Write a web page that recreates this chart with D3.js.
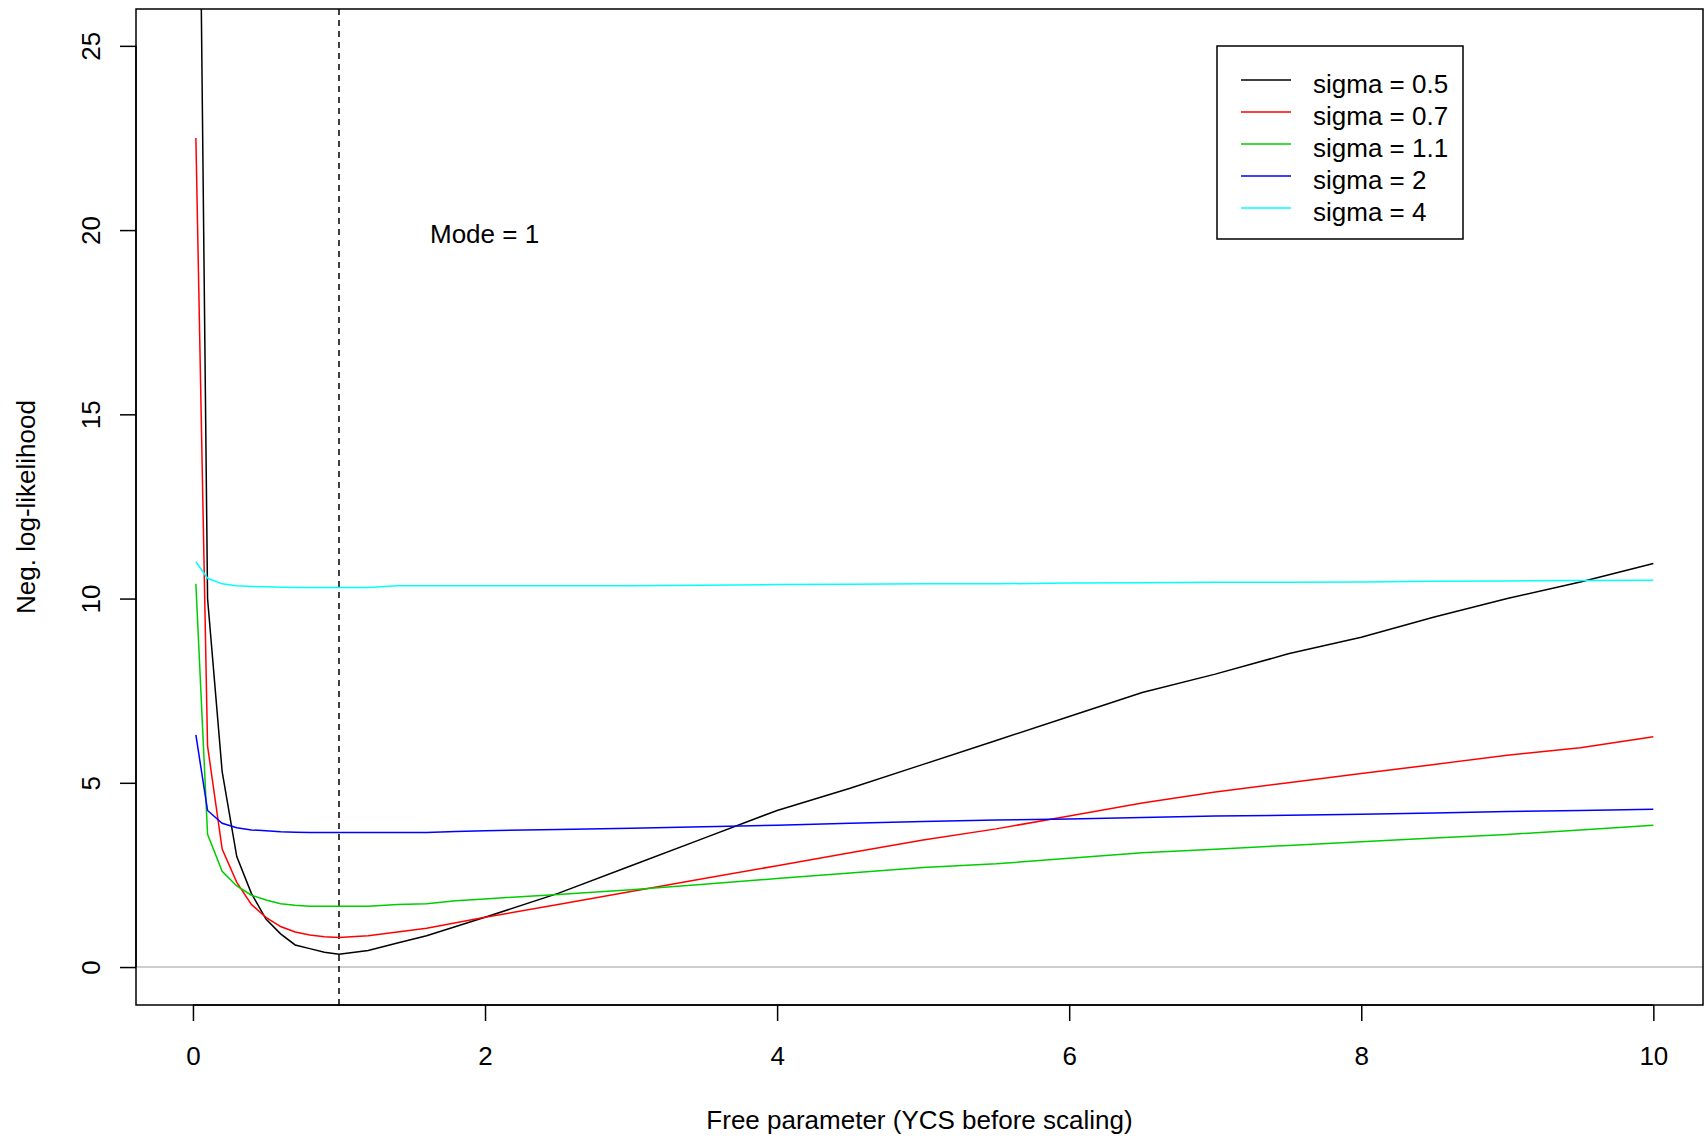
<!DOCTYPE html>
<html>
<head>
<meta charset="utf-8">
<script src="https://cdn.jsdelivr.net/npm/d3@7"></script>
<style>
  body { margin: 0; background: #fff; }
  text { font-family: "Liberation Sans", Arial, sans-serif; }
</style>
</head>
<body>
<svg id="chart" width="1704" height="1139"></svg>
<script>
// x positions sampled (free parameter)
const xs = [0.02, 0.1, 0.2, 0.3, 0.4, 0.5, 0.6, 0.7, 0.8, 0.9, 1.0, 1.2, 1.4, 1.6, 1.8, 2.0,
  2.5, 3.0, 3.5, 4.0, 4.5, 5.0, 5.5, 6.0, 6.5, 7.0, 7.5, 8.0, 8.5, 9.0, 9.5, 10.0];

const sigma05 = [40, 10, 5.3, 3.0, 2.0, 1.3, 0.9, 0.6, 0.5, 0.4, 0.35, 0.45, 0.65, 0.85, 1.1, 1.35,
  2.0, 2.75, 3.5, 4.25, 4.85, 5.5, 6.15, 6.8, 7.45, 7.95, 8.5, 8.95, 9.5, 10.0, 10.45, 10.95];
const sigma07 = [22.5, 6.0, 3.2, 2.3, 1.7, 1.35, 1.1, 0.95, 0.87, 0.82, 0.8, 0.85, 0.95, 1.05, 1.2, 1.35,
  1.7, 2.05, 2.4, 2.75, 3.1, 3.45, 3.75, 4.1, 4.45, 4.75, 5.0, 5.25, 5.5, 5.75, 5.95, 6.25];
const sigma11 = [10.4, 3.6, 2.6, 2.2, 1.95, 1.82, 1.72, 1.68, 1.65, 1.65, 1.65, 1.65, 1.7, 1.72, 1.8, 1.85,
  1.97, 2.1, 2.25, 2.4, 2.55, 2.7, 2.8, 2.95, 3.1, 3.2, 3.3, 3.4, 3.5, 3.6, 3.72, 3.85];
const sigma2 = [6.3, 4.25, 3.9, 3.78, 3.72, 3.7, 3.67, 3.66, 3.65, 3.65, 3.65, 3.65, 3.65, 3.65, 3.68, 3.7,
  3.73, 3.77, 3.81, 3.85, 3.9, 3.95, 3.99, 4.02, 4.06, 4.1, 4.12, 4.15, 4.18, 4.22, 4.25, 4.28];
const sigma4 = [11.0, 10.55, 10.4, 10.35, 10.33, 10.32, 10.31, 10.3, 10.3, 10.3, 10.3, 10.3, 10.35, 10.35, 10.35, 10.35,
  10.35, 10.35, 10.36, 10.38, 10.39, 10.4, 10.4, 10.42, 10.43, 10.44, 10.44, 10.45, 10.47, 10.48, 10.49, 10.5];

const seriesNames = ['sigma = 0.5', 'sigma = 0.7', 'sigma = 1.1', 'sigma = 2', 'sigma = 4'];
const seriesColors = ['#000000', '#ff0000', '#00cd00', '#0000ff', '#00ffff'];
const seriesValues = [sigma05, sigma07, sigma11, sigma2, sigma4];
const xTicks = [0, 2, 4, 6, 8, 10];
const yTicks = [0, 5, 10, 15, 20, 25];
const mode = 1;

const svg = d3.select('#chart');
const pLeft = 136, pRight = 1703, pTop = 9, pBottom = 1005;

const x = d3.scaleLinear().domain([-0.39, 10.34]).range([pLeft, pRight]);
const y = d3.scaleLinear().domain([-1.03, 26]).range([pBottom, pTop]);

svg.append('defs').append('clipPath').attr('id', 'clip')
  .append('rect').attr('x', pLeft).attr('y', pTop).attr('width', pRight - pLeft).attr('height', pBottom - pTop);

const plot = svg.append('g').attr('clip-path', 'url(#clip)');

// zero reference line
plot.append('line')
  .attr('x1', pLeft).attr('x2', pRight).attr('y1', y(0)).attr('y2', y(0))
  .attr('stroke', '#bebebe').attr('stroke-width', 1.5);

// mode line
plot.append('line')
  .attr('x1', x(mode)).attr('x2', x(mode)).attr('y1', pTop).attr('y2', pBottom)
  .attr('stroke', '#000').attr('stroke-width', 1.5).attr('stroke-dasharray', '6,5');

const line = d3.line().x((d, i) => x(xs[i])).y(d => y(d));
seriesValues.forEach((vals, k) => {
  plot.append('path')
    .attr('d', line(vals))
    .attr('fill', 'none')
    .attr('stroke', seriesColors[k])
    .attr('stroke-width', 1.5);
});

// box
svg.append('rect')
  .attr('x', pLeft).attr('y', pTop).attr('width', pRight - pLeft).attr('height', pBottom - pTop)
  .attr('fill', 'none').attr('stroke', '#000').attr('stroke-width', 1.5);

// axes
const xAxis = svg.append('g').attr('transform', `translate(0,${pBottom})`)
  .call(d3.axisBottom(x).tickValues(xTicks).tickSize(16).tickFormat(d3.format('d')));
xAxis.select('.domain').attr('d', `M${x(0)},0H${x(10)}`).attr('stroke-width', 1.5);
xAxis.selectAll('.tick line').attr('stroke-width', 1.5);
xAxis.selectAll('.tick text').attr('font-size', 26).attr('y', 0).attr('dy', 60)
  .style('font-family', '"Liberation Sans", Arial, sans-serif');

const yAxis = svg.append('g').attr('transform', `translate(${pLeft},0)`)
  .call(d3.axisLeft(y).tickValues(yTicks).tickSize(16).tickFormat(d3.format('d')));
yAxis.select('.domain').attr('d', `M0,${y(0)}V${y(25)}`).attr('stroke-width', 1.5);
yAxis.selectAll('.tick line').attr('stroke-width', 1.5);
yAxis.selectAll('.tick text').attr('font-size', 26)
  .attr('x', 0).attr('dy', 0)
  .attr('text-anchor', 'middle')
  .attr('transform', 'translate(-36,0) rotate(-90)')
  .style('font-family', '"Liberation Sans", Arial, sans-serif');

svg.append('text').attr('x', (pLeft + pRight) / 2).attr('y', 1129)
  .attr('text-anchor', 'middle').attr('font-size', 26)
  .text('Free parameter (YCS before scaling)');
svg.append('text').attr('transform', `translate(35,${(pTop + pBottom) / 2}) rotate(-90)`)
  .attr('text-anchor', 'middle').attr('font-size', 26)
  .text('Neg. log-likelihood');

svg.append('text').attr('x', 430).attr('y', 243).attr('font-size', 26).text('Mode = ' + mode);

// legend
const lg = svg.append('g');
lg.append('rect').attr('x', 1217).attr('y', 46).attr('width', 246).attr('height', 193)
  .attr('fill', '#fff').attr('stroke', '#000').attr('stroke-width', 1.5);
seriesNames.forEach((name, k) => {
  const yy = 80 + k * 32;
  lg.append('line').attr('x1', 1241).attr('x2', 1291).attr('y1', yy).attr('y2', yy)
    .attr('stroke', seriesColors[k]).attr('stroke-width', 1.5);
  lg.append('text').attr('x', 1313).attr('y', yy + 13).attr('font-size', 26).text(name);
});
</script>
</body>
</html>
